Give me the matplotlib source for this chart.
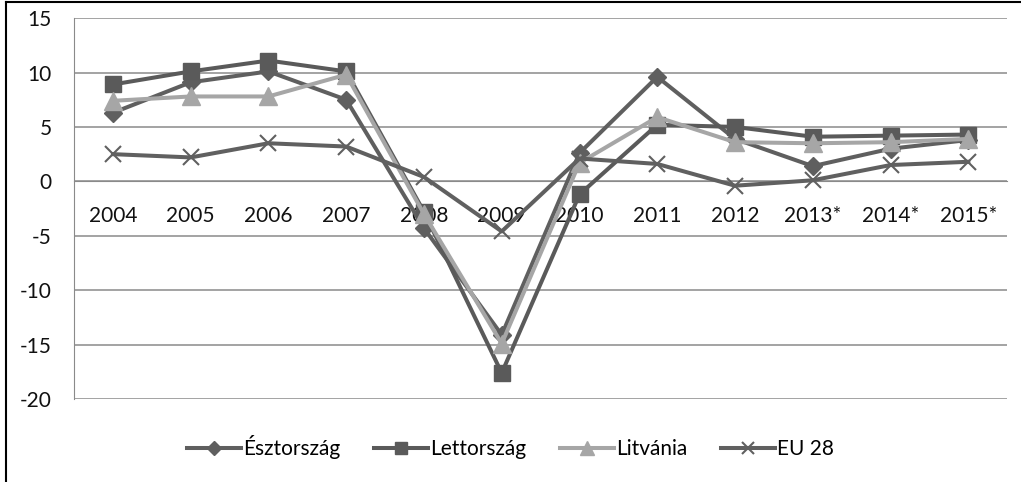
import matplotlib.pyplot as plt
from matplotlib.lines import Line2D

plt.rcParams['font.family'] = ['Lato', 'DejaVu Sans']
plt.rcParams['axes.unicode_minus'] = False

years = ["2004", "2005", "2006", "2007", "2008", "2009", "2010", "2011",
         "2012", "2013*", "2014*", "2015*"]
esztorszag = [6.3, 9.1, 10.1, 7.5, -4.3, -14.1, 2.6, 9.6, 3.9, 1.4, 3.0, 3.8]
lettorszag = [8.9, 10.1, 11.1, 10.1, -2.8, -17.6, -1.2, 5.2, 5.0, 4.1, 4.2, 4.3]
litvania = [7.4, 7.8, 7.8, 9.8, -3.0, -14.9, 1.7, 5.9, 3.6, 3.5, 3.6, 3.9]
eu28 = [2.5, 2.2, 3.5, 3.2, 0.4, -4.6, 2.1, 1.6, -0.4, 0.1, 1.5, 1.8]

fig = plt.figure(figsize=(10.21, 4.82), dpi=100)
ax = fig.add_axes([0.0725, 0.172, 0.914, 0.7905])

x = list(range(len(years)))
lw = 2.9
ax.plot(x, esztorszag, color="#5f5f5f", lw=lw, marker="D", ms=9, label="Észtország", zorder=3)
ax.plot(x, lettorszag, color="#5a5a5a", lw=lw, marker="s", ms=12, label="Lettország", zorder=3)
ax.plot(x, litvania, color="#a6a6a6", lw=lw, marker="^", ms=13, label="Litvánia", zorder=3)
ax.plot(x, eu28, color="#606060", lw=lw, marker="x", ms=12, mew=1.5, label="EU 28", zorder=3)

ax.set_xlim(-0.5, len(years) - 0.5)
ax.set_ylim(-20, 15)
ax.set_yticks(range(-20, 16, 5))
ax.yaxis.grid(True, color="#8a8a8a", lw=1.1)
ax.set_axisbelow(True)
ax.tick_params(axis="y", length=0, labelsize=15, pad=16, colors="#111111")

for side in ["top", "right"]:
    ax.spines[side].set_visible(False)
ax.spines["left"].set_color("#8a8a8a")
ax.spines["bottom"].set_position(("data", 0))
ax.spines["bottom"].set_color("#8a8a8a")
ax.set_xticks(x)
ax.set_xticklabels(years)
ax.tick_params(axis="x", length=0, labelsize=15, pad=18, colors="#111111")

fig.legend(loc="center", bbox_to_anchor=(0.5, 0.073), ncol=4, frameon=False,
           fontsize=15, handlelength=2.6, handletextpad=0.1, columnspacing=1.6,
           markerscale=0.75)

# outer frame (top and left edges visible)
fig.add_artist(Line2D([0.006, 0.006], [0, 0.996], transform=fig.transFigure, color="black", lw=1.5))
fig.add_artist(Line2D([0.006, 1], [0.996, 0.996], transform=fig.transFigure, color="black", lw=1.5))

fig.savefig("out.png", dpi=100)
